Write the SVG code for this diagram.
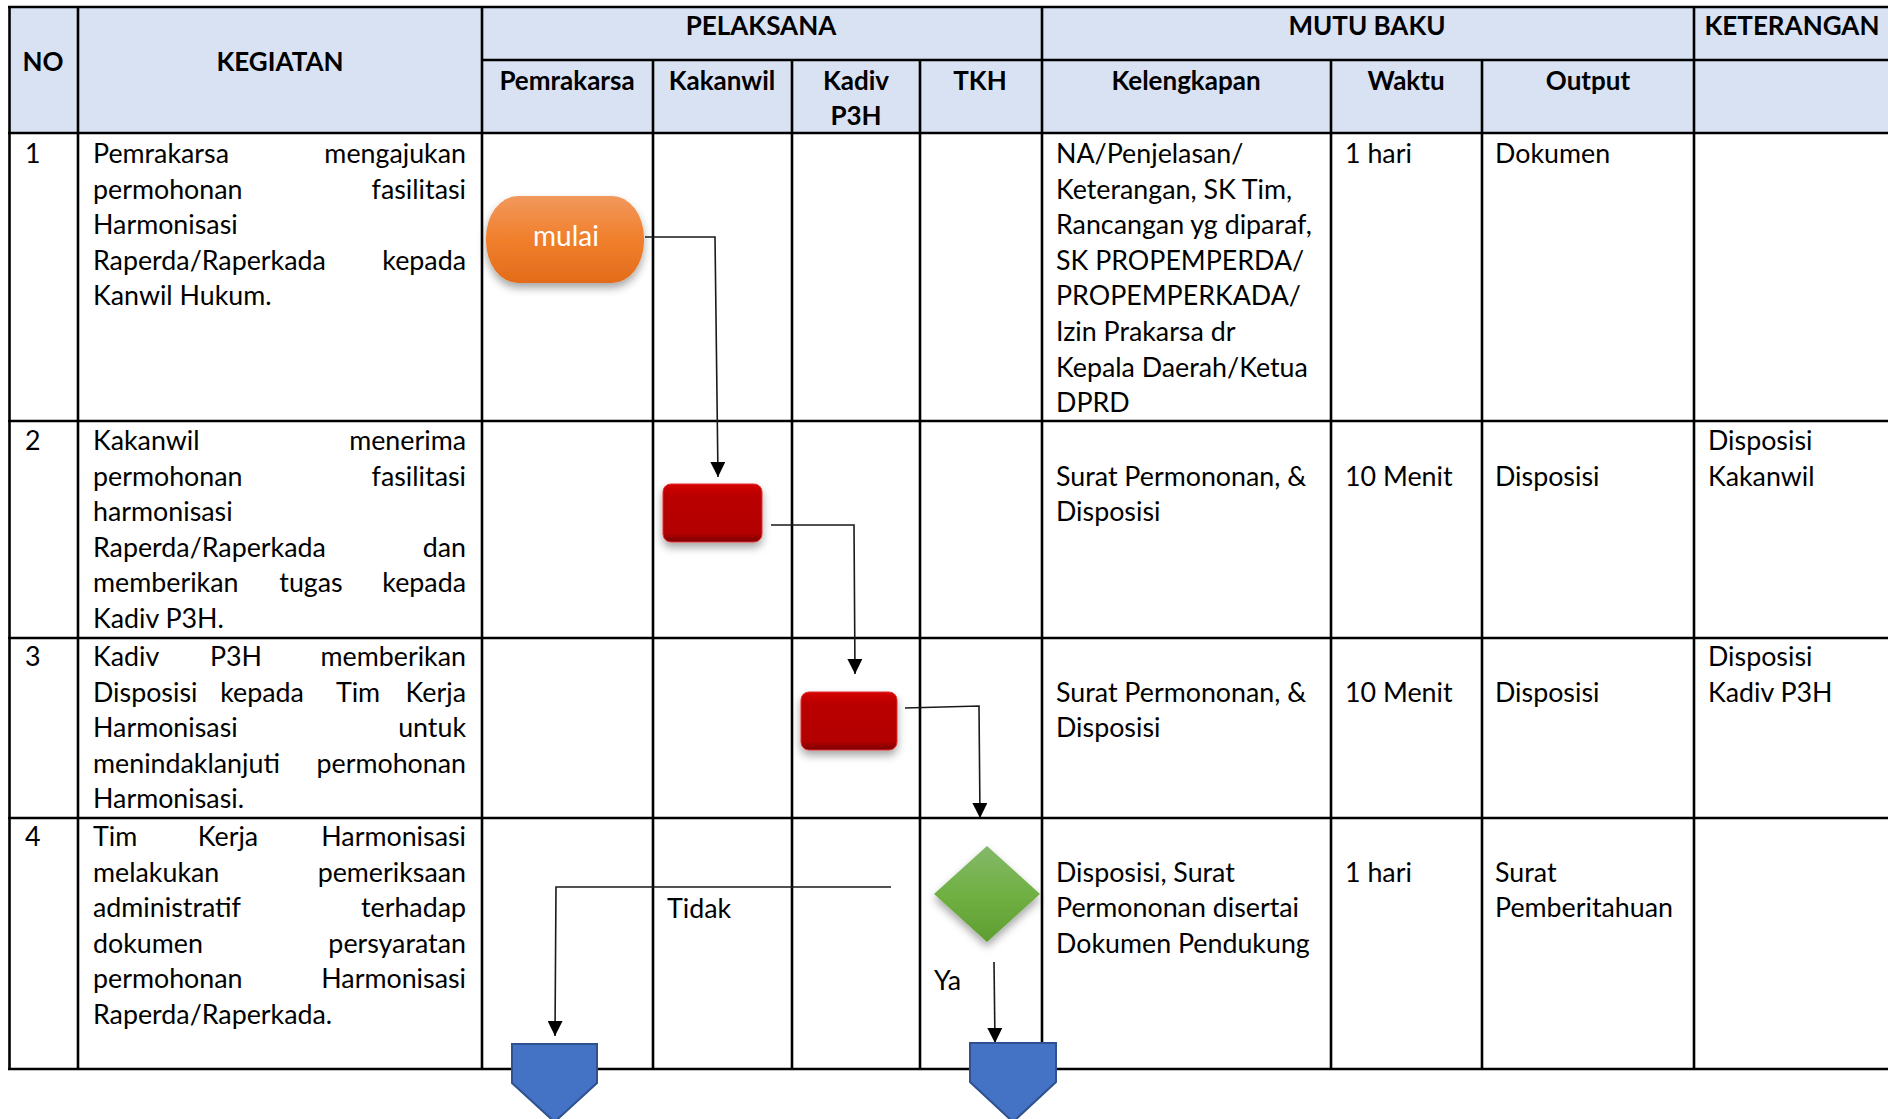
<svg xmlns="http://www.w3.org/2000/svg" width="1888" height="1119" viewBox="0 0 1888 1119">
<style>
.t{font-family:Lato,"Liberation Sans",sans-serif;font-size:26.8px;fill:#000}
.b{font-weight:bold;text-anchor:middle;font-size:26px}
.e{text-anchor:end}
.m{text-anchor:middle}
.grid line{stroke:#000;stroke-width:2.6}
.con{fill:none;stroke:#1a1a1a;stroke-width:1.6}
</style>
<defs>
<linearGradient id="gOr" x1="0" y1="0" x2="0" y2="1"><stop offset="0" stop-color="#F2985C"/><stop offset="0.5" stop-color="#F07F2C"/><stop offset="1" stop-color="#E36C1B"/></linearGradient>
<linearGradient id="gRed" x1="0" y1="0" x2="0" y2="1"><stop offset="0" stop-color="#D40000"/><stop offset="0.2" stop-color="#BA0000"/><stop offset="0.85" stop-color="#B20000"/><stop offset="1" stop-color="#7A0000"/></linearGradient>
<linearGradient id="gGr" x1="0" y1="0" x2="0" y2="1"><stop offset="0" stop-color="#84B96A"/><stop offset="0.5" stop-color="#70B043"/><stop offset="1" stop-color="#5E9E32"/></linearGradient>
<filter id="sh" x="-20%" y="-20%" width="140%" height="150%"><feDropShadow dx="0" dy="5" stdDeviation="4" flood-color="#000" flood-opacity="0.35"/></filter>
<marker id="arL" viewBox="0 0 10 10" refX="10" refY="5" markerWidth="15" markerHeight="15" markerUnits="userSpaceOnUse" orient="auto"><path d="M0,0 L10,5 L0,10 z" fill="#000"/></marker>
</defs>
<rect x="0" y="0" width="1888" height="1119" fill="#fff"/>
<rect x="9" y="6" width="1882" height="127" fill="#D9E2F3"/>
<g class="grid">
<line x1="9.5" y1="6" x2="9.5" y2="1069"/>
<line x1="78" y1="6" x2="78" y2="1069"/>
<line x1="482" y1="6" x2="482" y2="1069"/>
<line x1="653" y1="60" x2="653" y2="1069"/>
<line x1="792" y1="60" x2="792" y2="1069"/>
<line x1="920" y1="60" x2="920" y2="1069"/>
<line x1="1042" y1="6" x2="1042" y2="1069"/>
<line x1="1331" y1="60" x2="1331" y2="1069"/>
<line x1="1482" y1="60" x2="1482" y2="1069"/>
<line x1="1694" y1="6" x2="1694" y2="1069"/>
<line x1="8" y1="7" x2="1888" y2="7"/>
<line x1="482" y1="60" x2="1888" y2="60"/>
<line x1="8" y1="133" x2="1888" y2="133"/>
<line x1="8" y1="421" x2="1888" y2="421"/>
<line x1="8" y1="638" x2="1888" y2="638"/>
<line x1="8" y1="818" x2="1888" y2="818"/>
<line x1="8" y1="1069" x2="1888" y2="1069"/>
</g>
<g id="header">
<text class="t b" x="43" y="71">NO</text>
<text class="t b" x="280" y="71">KEGIATAN</text>
<text class="t b" x="761" y="35">PELAKSANA</text>
<text class="t b" x="1367" y="35">MUTU BAKU</text>
<text class="t b" x="1792" y="35">KETERANGAN</text>
<text class="t b" x="567" y="90">Pemrakarsa</text>
<text class="t b" x="722" y="90">Kakanwil</text>
<text class="t b" x="856" y="90">Kadiv</text>
<text class="t b" x="856" y="125">P3H</text>
<text class="t b" x="980" y="90">TKH</text>
<text class="t b" x="1186" y="90">Kelengkapan</text>
<text class="t b" x="1406" y="90">Waktu</text>
<text class="t b" x="1588" y="90">Output</text>
</g>
<g id="row1">
<text class="t" x="25" y="163">1</text>
<text class="t" x="93" y="163">Pemrakarsa</text><text class="t e" x="466" y="163">mengajukan</text>
<text class="t" x="93" y="199">permohonan</text><text class="t e" x="466" y="199">fasilitasi</text>
<text class="t" x="93" y="234">Harmonisasi</text>
<text class="t" x="93" y="270">Raperda/Raperkada</text><text class="t e" x="466" y="270">kepada</text>
<text class="t" x="93" y="305">Kanwil Hukum.</text>
<text class="t" x="1056" y="163">NA/Penjelasan/</text>
<text class="t" x="1056" y="199">Keterangan, SK Tim,</text>
<text class="t" x="1056" y="234">Rancangan yg diparaf,</text>
<text class="t" x="1056" y="270">SK PROPEMPERDA/</text>
<text class="t" x="1056" y="305">PROPEMPERKADA/</text>
<text class="t" x="1056" y="341">Izin Prakarsa dr</text>
<text class="t" x="1056" y="377">Kepala Daerah/Ketua</text>
<text class="t" x="1056" y="412">DPRD</text>
<text class="t" x="1345" y="163">1 hari</text>
<text class="t" x="1495" y="163">Dokumen</text>
</g>
<g id="row2">
<text class="t" x="25" y="450">2</text>
<text class="t" x="93" y="450">Kakanwil</text><text class="t e" x="466" y="450">menerima</text>
<text class="t" x="93" y="486">permohonan</text><text class="t e" x="466" y="486">fasilitasi</text>
<text class="t" x="93" y="521">harmonisasi</text>
<text class="t" x="93" y="557">Raperda/Raperkada</text><text class="t e" x="466" y="557">dan</text>
<text class="t" x="93" y="592">memberikan</text><text class="t m" x="311" y="592">tugas</text><text class="t e" x="466" y="592">kepada</text>
<text class="t" x="93" y="628">Kadiv P3H.</text>
<text class="t" x="1056" y="486">Surat Permononan, &amp;</text>
<text class="t" x="1056" y="521">Disposisi</text>
<text class="t" x="1345" y="486">10 Menit</text>
<text class="t" x="1495" y="486">Disposisi</text>
<text class="t" x="1708" y="450">Disposisi</text>
<text class="t" x="1708" y="486">Kakanwil</text>
</g>
<g id="row3">
<text class="t" x="25" y="666">3</text>
<text class="t" x="93" y="666">Kadiv</text><text class="t m" x="236" y="666">P3H</text><text class="t e" x="466" y="666">memberikan</text>
<text class="t" x="93" y="702">Disposisi</text><text class="t m" x="262" y="702">kepada</text><text class="t m" x="358" y="702">Tim</text><text class="t e" x="466" y="702">Kerja</text>
<text class="t" x="93" y="737">Harmonisasi</text><text class="t e" x="466" y="737">untuk</text>
<text class="t" x="93" y="773">menindaklanjuti</text><text class="t e" x="466" y="773">permohonan</text>
<text class="t" x="93" y="808">Harmonisasi.</text>
<text class="t" x="1056" y="702">Surat Permononan, &amp;</text>
<text class="t" x="1056" y="737">Disposisi</text>
<text class="t" x="1345" y="702">10 Menit</text>
<text class="t" x="1495" y="702">Disposisi</text>
<text class="t" x="1708" y="666">Disposisi</text>
<text class="t" x="1708" y="702">Kadiv P3H</text>
</g>
<g id="row4">
<text class="t" x="25" y="846">4</text>
<text class="t" x="93" y="846">Tim</text><text class="t m" x="228" y="846">Kerja</text><text class="t e" x="466" y="846">Harmonisasi</text>
<text class="t" x="93" y="882">melakukan</text><text class="t e" x="466" y="882">pemeriksaan</text>
<text class="t" x="93" y="917">administratif</text><text class="t e" x="466" y="917">terhadap</text>
<text class="t" x="93" y="953">dokumen</text><text class="t e" x="466" y="953">persyaratan</text>
<text class="t" x="93" y="988">permohonan</text><text class="t e" x="466" y="988">Harmonisasi</text>
<text class="t" x="93" y="1024">Raperda/Raperkada.</text>
<text class="t" x="1056" y="882">Disposisi, Surat</text>
<text class="t" x="1056" y="917">Permononan disertai</text>
<text class="t" x="1056" y="953">Dokumen Pendukung</text>
<text class="t" x="1345" y="882">1 hari</text>
<text class="t" x="1495" y="882">Surat</text>
<text class="t" x="1495" y="917">Pemberitahuan</text>
</g>
<g id="connectors">
<path class="con" d="M645,237 H715 L718,477" marker-end="url(#arL)"/>
<path class="con" d="M771,525 H854 L855,674" marker-end="url(#arL)"/>
<path class="con" d="M905,708 L979,706 L980,818" marker-end="url(#arL)"/>
<path class="con" d="M891,887 H556 L555,1036" marker-end="url(#arL)"/>
<path class="con" d="M994,962 L995,1043" marker-end="url(#arL)"/>
<text class="t" x="667" y="918">Tidak</text>
<text class="t" x="934" y="990">Ya</text>
</g>
<g id="mulai">
<rect x="486" y="196" width="158" height="87" rx="32" ry="42" fill="url(#gOr)" filter="url(#sh)"/>
<text class="t m" x="566" y="246" style="fill:#fff;font-size:28px">mulai</text>
</g>
<g id="proses1">
<rect x="663" y="484" width="99" height="58" rx="8" fill="url(#gRed)" stroke="#E23030" stroke-width="1" filter="url(#sh)"/>
</g>
<g id="proses2">
<rect x="801" y="692" width="96" height="58" rx="8" fill="url(#gRed)" stroke="#E23030" stroke-width="1" filter="url(#sh)"/>
</g>
<g id="keputusan">
<polygon points="987,846 1040,894 987,942 934,894" fill="url(#gGr)" filter="url(#sh)"/>
</g>
<g id="konektor1">
<polygon points="512,1044 597,1044 597,1083 554.5,1122 512,1083" fill="#4472C4" stroke="#2F528F" stroke-width="2"/>
</g>
<g id="konektor2">
<polygon points="970,1043 1056,1043 1056,1082 1013,1122 970,1082" fill="#4472C4" stroke="#2F528F" stroke-width="2"/>
</g>
</svg>
